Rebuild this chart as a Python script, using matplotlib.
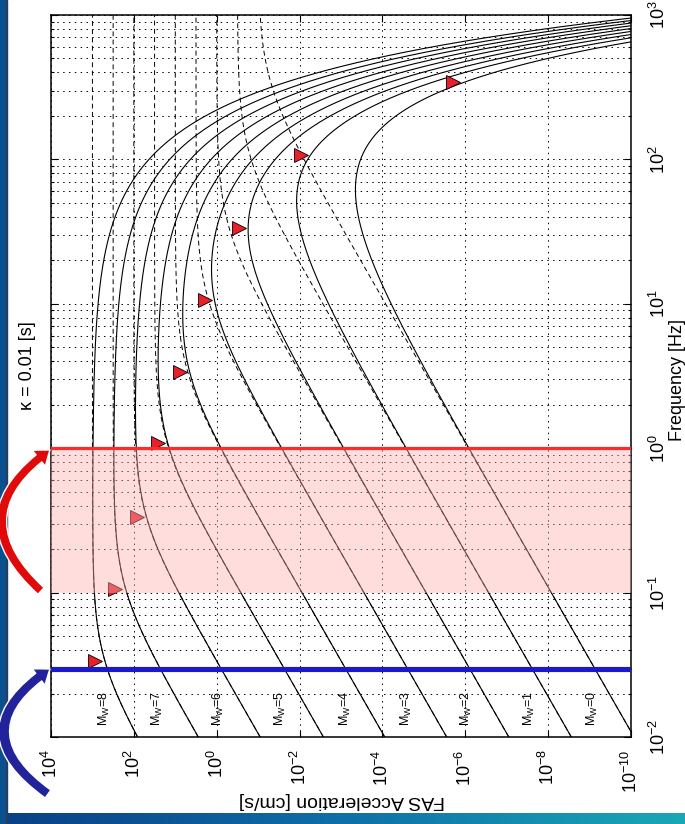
import numpy as np
import matplotlib.pyplot as plt
from matplotlib.patches import Rectangle, FancyArrowPatch
from matplotlib.colors import LinearSegmentedColormap
import matplotlib.ticker as mticker

plt.rcParams['font.family'] = ['Liberation Sans', 'DejaVu Sans']
plt.rcParams['mathtext.default'] = 'regular'

# source spectra (omega-square model)
magnitudes = [8, 7, 6, 5, 4, 3, 2, 1, 0]
corner_freq = [0.0336, 0.106, 0.334, 1.09, 3.37, 10.6, 33.5, 107.0, 344.0]   # Hz
plateau_log = [3.0, 2.5, 2.0, 1.5, 1.0, 0.5, 0.0, -0.5, -1.0]              # log10 cm/s
kappa = 0.01                                                               # s

# red triangles (corner frequency markers)
tri_amp_log = [2.94, 2.455, 1.924, 1.417, 0.886, 0.283, -0.526, -2.034, -5.70]

# magnitude labels
label_freq = 0.0158
label_amp_log = [2.70, 1.44, -0.03, -1.53, -3.10, -4.57, -6.04, -7.56, -9.08]

# highlighted frequencies
blue_freq = 0.0295
band_low, band_high = 0.1, 1.0

acc_ticks = [1e4, 1e2, 1e0, 1e-2, 1e-4, 1e-6, 1e-8, 1e-10]
acc_ticklabels = [r'$10^{4}$', r'$10^{2}$', r'$10^{0}$', r'$10^{-2}$',
                  r'$10^{-4}$', r'$10^{-6}$', r'$10^{-8}$', r'$10^{-10}$']
freq_ticks = [1e-2, 1e-1, 1e0, 1e1, 1e2, 1e3]
freq_ticklabels = [r'$10^{-2}$', r'$10^{-1}$', r'$10^{0}$', r'$10^{1}$',
                   r'$10^{2}$', r'$10^{3}$']

W, H = 685, 824
fig = plt.figure(figsize=(W / 100, H / 100), dpi=100)


def fx(px):
    return px / W


def fy(py):
    return 1 - py / H


# slide frame
fig.patches.append(Rectangle((0, 0), fx(6), 1, transform=fig.transFigure,
                             color='#0b4f8f', zorder=0))
fig.patches.append(Rectangle((fx(6), 0), fx(1.2), 1, transform=fig.transFigure,
                             color='#25405f', zorder=0))
bg = fig.add_axes([0, 0, 1, 11 / H])
grad = np.linspace(0, 1, 256).reshape(1, -1)
cmap = LinearSegmentedColormap.from_list('slide', ['#0a3f86', '#0f6fa8', '#1aa7b6'])
bg.imshow(grad, aspect='auto', cmap=cmap)
bg.set_axis_off()

ax = fig.add_axes([fx(51), fy(737), fx(631) - fx(51), fy(15) - fy(737)])

f = np.logspace(-2, 3, 800)
for fc, pl in zip(corner_freq, plateau_log):
    src = 10 ** pl * (f / fc) ** 2 / (1 + (f / fc) ** 2)
    ax.plot(src, f, color='k', lw=0.7, dashes=(5, 3.5), zorder=2)
    ax.plot(src * np.exp(-np.pi * kappa * f), f, color='k', lw=0.8, zorder=2)

ax.plot(10 ** np.array(tri_amp_log), corner_freq, '>', ms=10,
        mfc='#e8202a', mec='k', mew=0.6, zorder=4, clip_on=False)

for m, a in zip(magnitudes, label_amp_log):
    ax.text(10 ** a, label_freq, r'M$_{W}$=%d' % m, rotation=90, fontsize=9,
            ha='center', va='center', zorder=3)

ax.axhspan(band_low, band_high, color='#ffb0b0', alpha=0.42, lw=0, zorder=5)
ax.axhline(band_high, color='#ff2a2a', lw=2.3, zorder=6)
ax.axhline(blue_freq, color='#1a1acc', lw=3.7, zorder=6)

ax.set_xscale('log')
ax.set_yscale('log')
ax.set_xlim(1e4, 1e-10)
ax.set_ylim(1e-2, 1e3)

ax.set_xticks(acc_ticks)
ax.set_xticklabels(acc_ticklabels)
ax.xaxis.set_minor_locator(mticker.NullLocator())
ax.set_yticks(freq_ticks)
ax.set_yticklabels(freq_ticklabels)
ax.yaxis.set_minor_locator(mticker.LogLocator(base=10, subs=np.arange(2, 10)))
ax.yaxis.set_minor_formatter(mticker.NullFormatter())

ax.tick_params(axis='both', which='both', direction='in', top=True, right=True,
               left=True, bottom=True, width=0.8)
ax.tick_params(which='major', length=5)
ax.tick_params(which='minor', length=2.5)
ax.tick_params(axis='x', labelrotation=90, labelsize=13, pad=9)
ax.tick_params(axis='y', labelleft=False, labelright=True, labelrotation=90,
               labelsize=13, pad=13)
for lab in ax.get_yticklabels():
    lab.set_va('center')

ax.grid(True, which='major', axis='x', color='k', lw=0.7, dashes=(1.5, 4.5))
ax.grid(True, which='both', axis='y', color='k', lw=0.7, dashes=(1.5, 4.5))
ax.set_axisbelow(True)
for sp in ax.spines.values():
    sp.set_linewidth(1.1)

fig.text(fx(28), fy(366), 'κ = 0.01 [s]', rotation=90, ha='center', va='center',
         fontsize=13)
fig.text(fx(342), fy(800), 'FAS Acceleration [cm/s]', rotation=180, ha='center',
         va='center', fontsize=14)
fig.text(fx(677), fy(380), 'Frequency [Hz]', rotation=90, ha='center',
         va='center', fontsize=13)

# curved arrows on the left margin
blue_arrow = FancyArrowPatch((fx(48), fy(794)), (fx(50), fy(669)),
                             transform=fig.transFigure,
                             connectionstyle='arc3,rad=-0.72',
                             arrowstyle='simple,head_length=10,head_width=15,tail_width=7',
                             shrinkA=0, shrinkB=0, fc='#22229a', ec='white',
                             lw=1.0, zorder=10)
red_arrow = FancyArrowPatch((fx(41), fy(591)), (fx(50), fy(450)),
                            transform=fig.transFigure,
                            connectionstyle='arc3,rad=-0.62',
                            arrowstyle='simple,head_length=10,head_width=15,tail_width=6.5',
                            shrinkA=0, shrinkB=0, fc='#e00a0a', ec='white',
                            lw=1.0, zorder=10)
fig.patches.append(blue_arrow)
fig.patches.append(red_arrow)

fig.savefig('out.png', dpi=100)
